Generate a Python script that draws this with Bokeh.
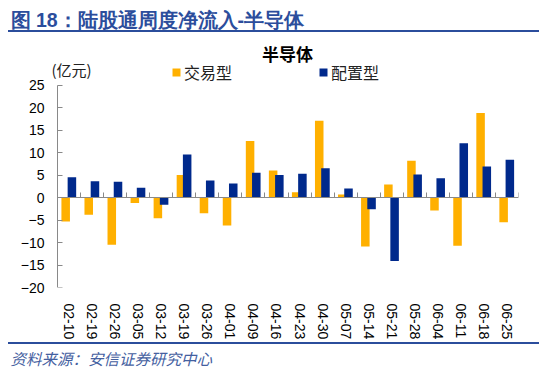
import numpy as np
from bokeh.plotting import figure
from bokeh.models import (LinearAxis, FixedTicker, Range1d, Label, Legend,
                          LegendItem, ColumnDataSource, Div)
from bokeh.layouts import column
from bokeh.embed import file_html
from bokeh.resources import INLINE

# ---- data ----
dates = ["02-10", "02-19", "02-26", "03-05", "03-12", "03-19", "03-26", "04-01",
         "04-09", "04-16", "04-23", "04-30", "05-07", "05-14", "05-21", "05-28",
         "06-04", "06-11", "06-18", "06-25"]
trading = [-5.3, -3.8, -10.5, -1.2, -4.6, 5.0, -3.5, -6.2, 12.6, 6.0, 1.2, 17.1,
           0.7, -10.9, 2.9, 8.2, -2.9, -10.7, 18.8, -5.5]
allocation = [4.5, 3.6, 3.5, 2.2, -1.6, 9.6, 3.8, 3.1, 5.5, 5.0, 5.3, 6.5, 2.0,
              -2.6, -14.1, 5.1, 4.3, 12.1, 6.9, 8.4]
y_ticks = [-20, -15, -10, -5, 0, 5, 10, 15, 20, 25]
series_names = ["交易型", "配置型"]
chart_title = "半导体"
unit_label = "(亿元)"
header_text = "图 18：陆股通周度净流入-半导体"
source_text = "资料来源：安信证券研究中心"

ORANGE = "#FFB000"
BLUE = "#00298C"
AXIS = "#898989"
HEAD = "#2B4D9C"
CJK = "Noto Sans CJK SC"
LATIN = "Liberation Sans"

n = len(dates)
idx = np.arange(n)
ymin, ymax = y_ticks[0], y_ticks[-1]

# ---- layout (page pixels) ----
W = 531
HEAD_H, LINE_H, SRC_H = 22, 2, 24
FIG_TOP = 8 + HEAD_H + LINE_H
AX_X, PLOT_R = 57, 518          # y-axis line and right end of the axis
AX_TOP, AX_BOT = 85, 289        # pixel rows of ymax and ymin
FR_L, FR_T = 46, 38             # frame extends a little beyond the axes for the labels
FIG_BOT = 342
FIG_H = FIG_BOT - FIG_TOP
XPX = (PLOT_R - AX_X) / n
YPX = (AX_BOT - AX_TOP) / (ymax - ymin)
MB_L, MB_R = FR_L - 8, 8 + W - PLOT_R


def fx(px):  # page x -> frame screen x
    return px - FR_L


def fy(py):  # page y -> frame screen y (from frame bottom)
    return AX_BOT - py


def plain(fig):
    fig.outline_line_color = None
    fig.xgrid.visible = False
    fig.ygrid.visible = False
    fig.background_fill_color = "white"
    fig.border_fill_color = "white"


def rule(dark_left):
    inner = ('<div style="width:%dpx;height:%dpx;background:%s;">' % (W, LINE_H, HEAD))
    if dark_left:
        inner += '<div style="width:10px;height:%dpx;background:#1B357A;"></div>' % LINE_H
    inner += '</div>'
    return Div(text=inner, width=W, height=LINE_H, margin=0,
               styles={"background-color": HEAD, "overflow": "hidden"})


# ---- header ----
hf = figure(width=W, height=HEAD_H, title=header_text, x_range=(0, 1), y_range=(0, 1),
            x_axis_location=None, y_axis_location=None, toolbar_location=None,
            output_backend="svg", min_border_left=MB_L, min_border_right=MB_R,
            min_border_top=0, min_border_bottom=0)
plain(hf)
hf.title.align = "left"
hf.title.offset = 10 - FR_L
hf.title.standoff = 0
hf.title.text_font = LATIN
hf.title.text_font_size = "19.5px"
hf.title.text_font_style = "bold"
hf.title.text_color = HEAD

# ---- main chart ----
src = ColumnDataSource(dict(xo=idx + 0.355, xb=idx + 0.625,
                            trading=trading, allocation=allocation))

p = figure(width=W, height=FIG_H,
           x_range=Range1d(-(AX_X - FR_L) / XPX, n),
           y_range=Range1d(ymin, ymax + (AX_TOP - FR_T) / YPX),
           x_axis_location=None, y_axis_location="left",
           toolbar_location=None, output_backend="svg",
           min_border_left=MB_L, min_border_right=MB_R,
           min_border_top=FR_T - FIG_TOP, min_border_bottom=FIG_BOT - AX_BOT)
plain(p)

r1 = p.vbar(x="xo", width=0.37, top="trading", bottom=0, source=src,
            fill_color=ORANGE, line_color=None)
r2 = p.vbar(x="xb", width=0.37, top="allocation", bottom=0, source=src,
            fill_color=BLUE, line_color=None)

# y tick labels (axis at the frame edge, line hidden)
ya = p.yaxis[0]
ya.ticker = FixedTicker(ticks=y_ticks)
ya.bounds = (ymin, ymax)
ya.axis_line_color = None
ya.major_tick_line_color = None
ya.minor_tick_line_color = None
ya.major_label_standoff = -4
ya.major_label_text_font = LATIN
ya.major_label_text_font_size = "14px"
ya.major_label_text_color = "#000000"

# visible y axis line with inward ticks at x = 0
yl = LinearAxis(ticker=FixedTicker(ticks=y_ticks), fixed_location=0, bounds=(ymin, ymax))
yl.axis_line_color = AXIS
yl.major_tick_line_color = AXIS
yl.major_tick_in = 5
yl.major_tick_out = 0
yl.minor_tick_line_color = None
yl.major_label_text_font_size = "0px"
yl.major_label_standoff = 0
p.add_layout(yl, "left")

# zero line with category boundary ticks
x0 = LinearAxis(ticker=FixedTicker(ticks=list(range(n + 1))), fixed_location=0,
                bounds=(0, n))
x0.axis_line_color = AXIS
x0.major_tick_line_color = AXIS
x0.major_tick_in = 5
x0.major_tick_out = 0
x0.minor_tick_line_color = None
x0.major_label_text_font_size = "0px"
x0.major_label_standoff = 0
p.add_layout(x0, "below")

# category labels at the bottom
xb = LinearAxis(ticker=FixedTicker(ticks=[i + 0.5 for i in range(n)]),
                major_label_overrides={i + 0.5: d for i, d in enumerate(dates)})
xb.axis_line_color = None
xb.major_tick_line_color = None
xb.minor_tick_line_color = None
xb.major_label_orientation = "vertical"
xb.major_label_standoff = 10
xb.major_label_text_font = LATIN
xb.major_label_text_font_size = "14px"
xb.major_label_text_color = "#000000"
p.add_layout(xb, "below")

p.add_layout(Label(x=fx(287), y=fy(55), x_units="screen", y_units="screen", text=chart_title,
                   text_align="center", text_baseline="middle", text_font=CJK,
                   text_font_size="17px", text_font_style="bold", text_color="#000000"))
p.add_layout(Label(x=fx(51), y=fy(71), x_units="screen", y_units="screen", text=unit_label,
                   text_align="left", text_baseline="middle", text_font=CJK,
                   text_font_size="15px", text_color="#222222"))

legend = Legend(items=[LegendItem(label=series_names[0], renderers=[r1]),
                       LegendItem(label=series_names[1], renderers=[r2])],
                orientation="horizontal", location=(fx(171), fy(86)),
                glyph_width=10, glyph_height=10, label_standoff=3, spacing=86,
                padding=0, margin=0, border_line_color=None, background_fill_alpha=0,
                label_text_font=CJK, label_text_font_size="16px", label_text_color="#222222")
p.add_layout(legend)

# ---- source line ----
sf = figure(width=W, height=SRC_H, title=source_text, title_location="below",
            x_range=(0, 1), y_range=(0, 1),
            x_axis_location=None, y_axis_location=None, toolbar_location=None,
            output_backend="svg", min_border_left=MB_L, min_border_right=MB_R,
            min_border_top=0, min_border_bottom=0)
plain(sf)
sf.title.align = "left"
sf.title.offset = 10 - FR_L
sf.title.standoff = 0
sf.title.text_font = CJK
sf.title.text_font_size = "15.5px"
sf.title.text_font_style = "italic"
sf.title.text_color = "#44609F"

layout = column(hf, rule(True), p, rule(False), sf, margin=(8, 0, 0, 8))
open("out.html", "w").write(file_html(layout, INLINE))
